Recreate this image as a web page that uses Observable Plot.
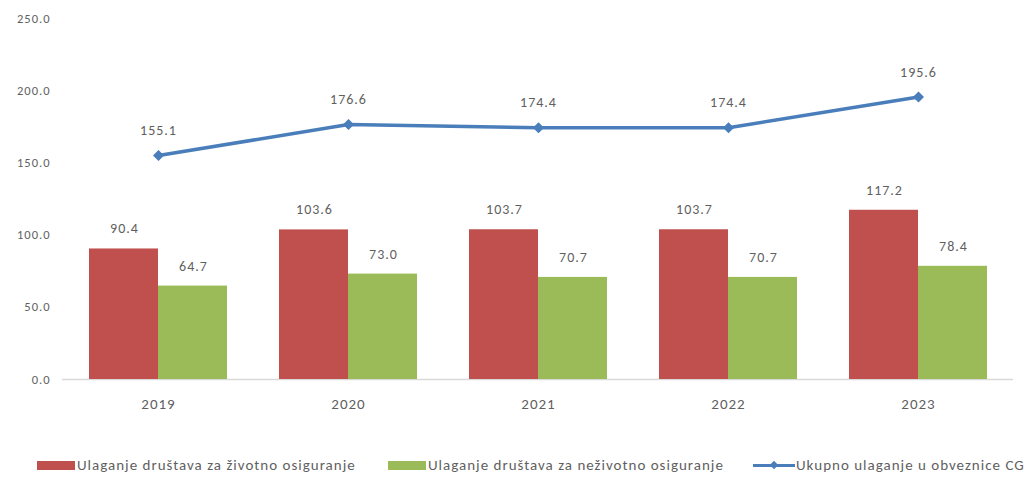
<!DOCTYPE html>
<html><head><meta charset="utf-8">
<script src="https://cdn.jsdelivr.net/npm/d3@7"></script>
<script src="https://cdn.jsdelivr.net/npm/@observablehq/plot@0.6"></script>
<style>
body{margin:0;background:#fff;font-family:Carlito,Lato,"Open Sans",sans-serif;}
#legend{position:absolute;left:0;top:453px;width:1026px;height:24px;font-size:15px;letter-spacing:1px;color:#5f5f5f;}
.item{position:absolute;top:0;display:flex;align-items:center;height:24px;}
.sw{display:inline-block;width:38px;height:9px;margin-right:2px;}
</style></head><body>
<div id="chart"></div>
<div id="legend"></div>
<script>
const years = ["2019","2020","2021","2022","2023"];
const lifeValues = [90.4,103.6,103.7,103.7,117.2];
const nonLifeValues = [64.7,73.0,70.7,70.7,78.4];
const totalValues = [155.1,176.6,174.4,174.4,195.6];
const seriesNames = ["Ulaganje društava za životno osiguranje","Ulaganje društava za neživotno osiguranje","Ukupno ulaganje u obveznice CG"];
const yTicks = [0,50,100,150,200,250];

const red = "#C0504D", green = "#9BBB59", blue = "#4A7EBB", txt = "#5f5f5f";
const life = years.map((y,i)=>({year:y, v:lifeValues[i]}));
const nonLife = years.map((y,i)=>({year:y, v:nonLifeValues[i]}));
const total = years.map((y,i)=>({year:y, v:totalValues[i]}));
const fmt = d3.format(".1f");

const chart = Plot.plot({
  width:1026, height:440,
  marginLeft:62, marginRight:13, marginTop:18, marginBottom:61,
  style:{fontFamily:"Carlito, Lato, 'Open Sans', sans-serif", fontSize:"13px", color:txt, background:"#fff", letterSpacing:"1px"},
  x:{domain:years, paddingInner:0.274, paddingOuter:0.137, label:null},
  y:{domain:[0,250], label:null},
  marks:[
    Plot.axisY({ticks:yTicks, tickFormat:fmt, tickSize:0, tickPadding:12, fontSize:12.5, fill:txt}),
    Plot.axisX({tickSize:0, tickPadding:19, fontSize:15, fill:txt}),
    Plot.ruleY([0], {stroke:"#D9D9D9", strokeWidth:1.5}),
    Plot.barY(life, {x:"year", y:"v", fill:red, insetRight:69}),
    Plot.barY(nonLife, {x:"year", y:"v", fill:green, insetLeft:69}),
    Plot.text(life, {x:"year", y:"v", text:d=>fmt(d.v), dx:-34, dy:-20, fill:txt, fontSize:14}),
    Plot.text(nonLife, {x:"year", y:"v", text:d=>fmt(d.v), dx:35, dy:-20, fill:txt, fontSize:14}),
    Plot.lineY(total, {x:"year", y:"v", stroke:blue, strokeWidth:3.5}),
    Plot.dot(total, {x:"year", y:"v", symbol:"diamond2", r:4, fill:blue, stroke:blue}),
    Plot.text(total, {x:"year", y:"v", text:d=>fmt(d.v), dy:-25, fill:txt, fontSize:14})
  ]
});
document.getElementById("chart").appendChild(chart);

const lg = document.getElementById("legend");
const items = [
  {name:seriesNames[0], color:red, left:37, type:"bar"},
  {name:seriesNames[1], color:green, left:388, type:"bar"},
  {name:seriesNames[2], color:blue, left:753, type:"line"}
];
for (const it of items){
  const d = document.createElement("div");
  d.className="item"; d.style.left = it.left+"px";
  const s = document.createElement("span");
  if (it.type==="bar"){ s.className="sw"; s.style.background=it.color; }
  else {
    s.style.cssText="display:inline-block;width:42px;height:3px;margin-right:1px;position:relative;background:"+it.color;
    const m=document.createElement("span");
    m.style.cssText="position:absolute;left:18px;top:-2px;width:6px;height:6px;background:"+it.color+";transform:rotate(45deg)";
    s.appendChild(m);
  }
  d.appendChild(s);
  d.appendChild(document.createTextNode(it.name));
  lg.appendChild(d);
}
</script>
</body></html>
